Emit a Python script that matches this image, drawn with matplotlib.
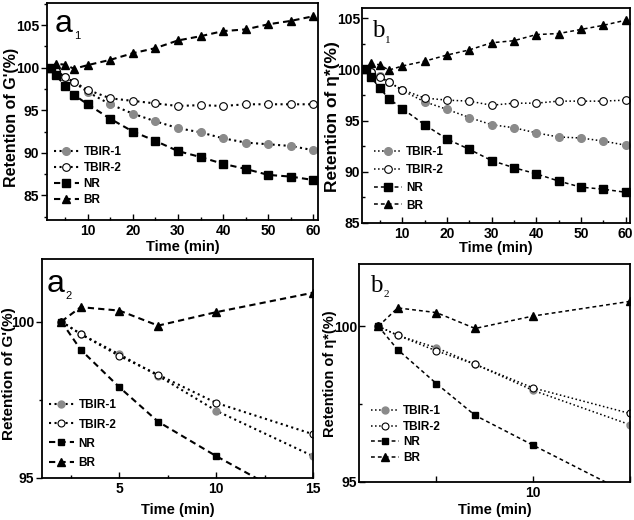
import matplotlib
matplotlib.use('Agg')
import matplotlib.pyplot as plt
from matplotlib.ticker import MultipleLocator, FixedLocator

plt.rcParams['font.family'] = ['Liberation Sans', 'DejaVu Sans']
plt.rcParams['font.weight'] = 'bold'
plt.rcParams['axes.labelweight'] = 'bold'

# time points (min)
time = [2, 3, 5, 7, 10, 15, 20, 25, 30, 35, 40, 45, 50, 55, 60]

# retention of G' (%)
g_tbir1 = [100, 99.6, 98.95, 98.27, 97.15, 95.7, 94.6, 93.7, 92.9, 92.4, 91.7, 91.2, 91.0, 90.8, 90.3]
g_tbir2 = [100, 99.6, 98.9, 98.3, 97.4, 96.4, 96.1, 95.8, 95.5, 95.6, 95.5, 95.7, 95.7, 95.7, 95.7]
g_nr = [100, 99.1, 97.9, 96.8, 95.7, 94.0, 92.5, 91.4, 90.2, 89.5, 88.7, 88.1, 87.4, 87.2, 86.8]
g_br = [100, 100.46, 100.35, 99.87, 100.3, 100.92, 101.7, 102.3, 103.2, 103.7, 104.3, 104.5, 105.1, 105.5, 106.05]

# retention of eta* (%)
e_tbir1 = [100, 99.71, 99.31, 98.78, 97.94, 96.84, 96.1, 95.3, 94.6, 94.3, 93.8, 93.4, 93.3, 93.0, 92.6]
e_tbir2 = [100, 99.71, 99.21, 98.78, 98.02, 97.2, 97.0, 96.9, 96.5, 96.7, 96.7, 96.9, 96.9, 96.9, 97.0]
e_nr = [100, 99.25, 98.16, 97.14, 96.18, 94.6, 93.2, 92.2, 91.1, 90.4, 89.8, 89.1, 88.5, 88.3, 88.0]
e_br = [100, 100.59, 100.44, 99.93, 100.33, 100.8, 101.4, 101.9, 102.6, 102.8, 103.4, 103.5, 103.9, 104.3, 104.8]

labels = ['TBIR-1', 'TBIR-2', 'NR', 'BR']
serif = ['Liberation Serif', 'DejaVu Serif']

fig = plt.figure(figsize=(6.34, 5.2), dpi=100)

ax1 = fig.add_axes([0.0741, 0.5769, 0.4274, 0.4173])
ax2 = fig.add_axes([0.571, 0.5712, 0.4227, 0.4135])
ax3 = fig.add_axes([0.0662, 0.0808, 0.4274, 0.4212])
ax4 = fig.add_axes([0.5662, 0.0731, 0.4274, 0.4192])


def draw(ax, series, lw, ms, dash, ydir):
    t1, t2, nr, br = series
    ax.plot(time, t1, ':', color='black', lw=lw, marker='o', ms=ms,
            mfc='#8a8a8a', mec='#8a8a8a', label=labels[0])
    ax.plot(time, t2, ':', color='black', lw=lw, marker='o', ms=ms,
            mfc='white', mec='black', mew=0.8, label=labels[1])
    ax.plot(time, nr, color='black', lw=lw, dashes=dash, marker='s', ms=ms,
            label=labels[2])
    ax.plot(time, br, color='black', lw=lw, dashes=dash, marker='^', ms=ms + 0.5,
            label=labels[3])
    for s in ax.spines.values():
        s.set_linewidth(1.3)
    ax.tick_params(axis='x', which='both', direction='in', labelsize=10, pad=3)
    ax.tick_params(axis='y', which='both', direction=ydir, labelsize=10, pad=1.5)
    ax.tick_params(which='major', length=4, width=1)
    ax.tick_params(which='minor', length=2.5, width=1)


draw(ax1, (g_tbir1, g_tbir2, g_nr, g_br), 1.5, 5.5, (3, 2), 'out')
draw(ax2, (e_tbir1, e_tbir2, e_nr, e_br), 1.1, 5.5, (2.5, 2), 'in')
draw(ax3, (g_tbir1, g_tbir2, g_nr, g_br), 1.5, 5, (3, 2), 'out')
draw(ax4, (e_tbir1, e_tbir2, e_nr, e_br), 1.1, 5, (2.5, 2), 'in')

# a1
ax1.set_xlim(1, 61)
ax1.set_ylim(82.1, 107.6)
ax1.xaxis.set_major_locator(FixedLocator([10, 20, 30, 40, 50, 60]))
ax1.xaxis.set_minor_locator(MultipleLocator(5))
ax1.yaxis.set_major_locator(FixedLocator([85, 90, 95, 100, 105]))
ax1.yaxis.set_minor_locator(MultipleLocator(2.5))
ax1.set_xlabel('Time (min)', fontsize=10.5, labelpad=1)
ax1.set_ylabel("Retention of G'(%)", fontsize=11.5)
ax1.yaxis.set_label_coords(-0.105, 0.475)
ax1.legend(loc='lower left', bbox_to_anchor=(0.0, 0.03), frameon=False,
           fontsize=8.5, handlelength=2.1, handletextpad=0.4, labelspacing=0.35,
           numpoints=1, borderaxespad=0.2)
ax1.text(0.03, 0.866, 'a', transform=ax1.transAxes, fontsize=23,
         fontweight='normal', va='baseline')
ax1.text(0.1, 0.834, '1', transform=ax1.transAxes, fontsize=8,
         fontweight='normal', va='baseline')

# b1
ax2.set_xlim(1, 61)
ax2.set_ylim(85, 106)
ax2.xaxis.set_major_locator(FixedLocator([10, 20, 30, 40, 50, 60]))
ax2.xaxis.set_minor_locator(MultipleLocator(5))
ax2.yaxis.set_major_locator(FixedLocator([85, 90, 95, 100, 105]))
ax2.yaxis.set_minor_locator(MultipleLocator(2.5))
ax2.set_xlabel('Time (min)', fontsize=10.5, labelpad=0)
ax2.set_ylabel('Retention of η*(%)', fontsize=12.5)
ax2.yaxis.set_label_coords(-0.082, 0.493)
ax2.legend(loc='lower left', bbox_to_anchor=(0.02, 0.02), frameon=False,
           fontsize=8.5, handlelength=2.3, handletextpad=0.4, labelspacing=0.5,
           numpoints=1, borderaxespad=0.2)
ax2.text(0.037, 0.865, 'b', transform=ax2.transAxes, fontsize=18,
         family=serif, fontweight='normal', va='baseline')
ax2.text(0.086, 0.837, '1', transform=ax2.transAxes, fontsize=8,
         family=serif, fontweight='normal', va='baseline')

# a2
ax3.set_xlim(1, 15)
ax3.set_ylim(95, 102)
ax3.xaxis.set_major_locator(FixedLocator([5, 10, 15]))
ax3.xaxis.set_minor_locator(MultipleLocator(2.5))
ax3.yaxis.set_major_locator(FixedLocator([95, 100]))
ax3.yaxis.set_minor_locator(MultipleLocator(2.5))
ax3.set_xlabel('Time (min)', fontsize=10.5, labelpad=5)
ax3.set_ylabel("Retention of G'(%)", fontsize=11)
ax3.yaxis.set_label_coords(-0.095, 0.475)
ax3.legend(loc='lower left', bbox_to_anchor=(0.0, 0.01), frameon=False,
           fontsize=8.5, handlelength=2.1, handletextpad=0.4, labelspacing=0.6,
           numpoints=1, borderaxespad=0.2)
ax3.text(0.018, 0.849, 'a', transform=ax3.transAxes, fontsize=23,
         fontweight='normal', va='baseline')
ax3.text(0.085, 0.817, '2', transform=ax3.transAxes, fontsize=8,
         fontweight='normal', va='baseline')

# b2
ax4.set_xlim(1, 15)
ax4.set_ylim(95, 102)
ax4.xaxis.set_major_locator(FixedLocator([5, 10, 15]))
ax4.set_xticklabels(['', '10', ''])
ax4.yaxis.set_major_locator(FixedLocator([95, 100]))
ax4.yaxis.set_minor_locator(MultipleLocator(2.5))
ax4.set_xlabel('Time (min)', fontsize=10.5, labelpad=2)
ax4.set_ylabel('Retention of η*(%)', fontsize=10.5)
ax4.yaxis.set_label_coords(-0.08, 0.498)
ax4.legend(loc='lower left', bbox_to_anchor=(0.02, 0.05), frameon=False,
           fontsize=8.5, handlelength=2.3, handletextpad=0.4, labelspacing=0.3,
           numpoints=1, borderaxespad=0.2)
ax4.text(0.04, 0.872, 'b', transform=ax4.transAxes, fontsize=18,
         family=serif, fontweight='normal', va='baseline')
ax4.text(0.089, 0.85, '2', transform=ax4.transAxes, fontsize=8,
         family=serif, fontweight='normal', va='baseline')

fig.savefig('out.png', dpi=100)
